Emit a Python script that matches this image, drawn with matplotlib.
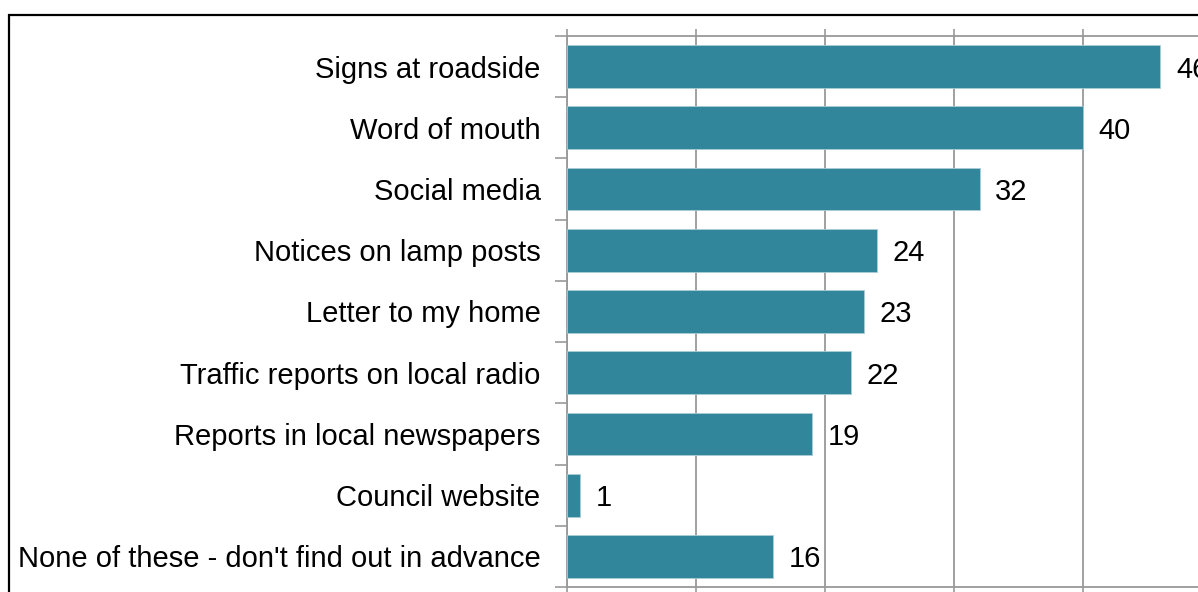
import matplotlib.pyplot as plt
from matplotlib.patches import Rectangle
import numpy as np

plt.rcParams['font.family'] = ['Liberation Sans', 'DejaVu Sans']

# How people find out about roadworks (%)
sources = ["Signs at roadside", "Word of mouth", "Social media",
           "Notices on lamp posts", "Letter to my home",
           "Traffic reports on local radio", "Reports in local newspapers",
           "Council website", "None of these - don't find out in advance"]
percent = [46, 40, 32, 24, 23, 22, 19, 1, 16]

bar_color = "#31869b"
grid_color = "#999999"

fig = plt.figure(figsize=(11.98, 5.92), dpi=100)
W, H = 1198, 592

# outer frame, runs off the right and bottom edges
fig.patches.append(Rectangle((9 / W, -0.1), 1.2, 1 - 15 / H + 0.1,
                             transform=fig.transFigure, fill=False,
                             edgecolor="black", linewidth=1.6))

left, top, bottom = 567 / W, 1 - 36 / H, 1 - 587 / H
ax = fig.add_axes([left, bottom, 645 / W, top - bottom])

y = np.arange(len(sources))
ax.barh(y, percent, height=0.7, color=bar_color,
        edgecolor="#a9cdd7", linewidth=0.6, zorder=3)
for yi, v in zip(y, percent):
    ax.text(v + 1.2, yi, str(v), va="center_baseline", ha="left",
            fontsize=21, zorder=4)

ax.set_xlim(0, 50)
ax.set_ylim(len(sources) - 0.5, -0.5)

ax.set_yticks(y)
ax.set_yticklabels(sources, fontsize=21)
ax.tick_params(axis="y", which="major", length=0, pad=19)
ax.set_yticks(np.arange(len(sources) + 1) - 0.5, minor=True)
ax.tick_params(axis="y", which="minor", length=8.5, width=1.2,
               color=grid_color)

ax.set_xticks([0, 10, 20, 30, 40, 50])
ax.xaxis.set_ticks_position("both")
ax.tick_params(axis="x", which="major", length=5, width=1.2,
               color=grid_color, labelbottom=False, labeltop=False)
ax.grid(axis="x", color=grid_color, linewidth=1.3, zorder=0)

for side in ["left", "top", "bottom", "right"]:
    ax.spines[side].set_color(grid_color)
    ax.spines[side].set_linewidth(1.3)

fig.savefig("out.png", dpi=100)
